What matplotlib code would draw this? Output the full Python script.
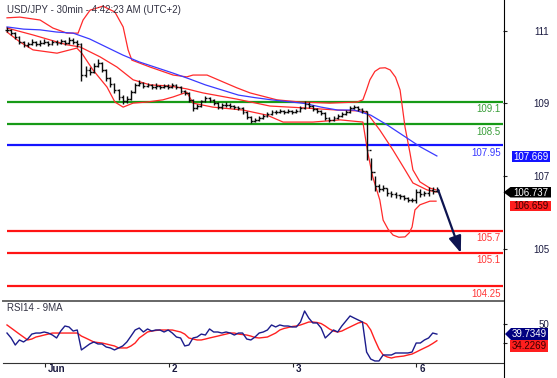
import numpy as np
import matplotlib
matplotlib.use("Agg")
import matplotlib.pyplot as plt
from matplotlib.patches import Polygon
from matplotlib.lines import Line2D

plt.rcParams['font.family'] = ['Liberation Sans', 'DejaVu Sans']

# ---------------- data ----------------
title = "USD/JPY - 30min - 4:42:23 AM (UTC+2)"
rsi_title = "RSI14 - 9MA"

close = [111.02, 110.93, 110.82, 110.69, 110.60, 110.63, 110.69, 110.63, 110.66, 110.69,
         110.63, 110.69, 110.66, 110.71, 110.66, 110.74, 110.69, 110.63, 109.78, 109.92,
         109.86, 110.03, 110.11, 109.92, 109.70, 109.53, 109.37, 109.18, 109.07, 109.12,
         109.32, 109.51, 109.56, 109.48, 109.51, 109.45, 109.48, 109.45, 109.48, 109.45,
         109.51, 109.45, 109.34, 109.29, 109.10, 108.88, 108.93, 109.07, 109.15, 109.10,
         109.01, 108.90, 108.96, 108.96, 108.93, 108.90, 108.88, 108.77, 108.63, 108.52,
         108.55, 108.60, 108.66, 108.71, 108.77, 108.77, 108.79, 108.77, 108.79, 108.77,
         108.79, 108.88, 108.99, 108.93, 108.85, 108.79, 108.74, 108.60, 108.55, 108.60,
         108.66, 108.71, 108.77, 108.88, 108.90, 108.85, 108.79, 107.72, 107.12, 106.74,
         106.65, 106.68, 106.54, 106.52, 106.49, 106.46, 106.41, 106.35, 106.35, 106.57,
         106.52, 106.54, 106.63, 106.60, 106.63]
high = [111.10, 111.03, 110.95, 110.84, 110.72, 110.70, 110.76, 110.72, 110.73, 110.76,
        110.72, 110.74, 110.73, 110.78, 110.75, 110.82, 110.80, 110.73, 110.66, 110.02,
        110.00, 110.10, 110.22, 110.13, 109.94, 109.72, 109.56, 109.40, 109.22, 109.20,
        109.36, 109.56, 109.64, 109.60, 109.57, 109.54, 109.55, 109.52, 109.54, 109.53,
        109.56, 109.54, 109.47, 109.38, 109.31, 109.12, 108.99, 109.10, 109.20, 109.18,
        109.12, 109.04, 109.02, 109.03, 109.00, 108.97, 108.94, 108.90, 108.79, 108.66,
        108.61, 108.66, 108.71, 108.77, 108.82, 108.83, 108.84, 108.83, 108.84, 108.82,
        108.85, 108.92, 109.08, 109.05, 108.96, 108.88, 108.82, 108.76, 108.64, 108.66,
        108.71, 108.76, 108.82, 108.93, 108.97, 108.93, 108.88, 108.80, 107.50, 107.01,
        106.80, 106.76, 106.68, 106.60, 106.56, 106.53, 106.50, 106.44, 106.42, 106.66,
        106.66, 106.60, 106.70, 106.70, 106.70]
low = [110.95, 110.88, 110.77, 110.64, 110.55, 110.55, 110.60, 110.58, 110.58, 110.62,
       110.59, 110.61, 110.60, 110.63, 110.61, 110.64, 110.63, 110.56, 109.62, 109.72,
       109.78, 109.84, 110.00, 109.85, 109.63, 109.46, 109.30, 109.10, 108.98, 109.02,
       109.10, 109.30, 109.47, 109.43, 109.44, 109.40, 109.41, 109.39, 109.42, 109.40,
       109.43, 109.40, 109.29, 109.22, 109.04, 108.80, 108.84, 108.90, 109.04, 109.03,
       108.96, 108.85, 108.86, 108.90, 108.87, 108.84, 108.81, 108.72, 108.57, 108.46,
       108.48, 108.52, 108.58, 108.63, 108.69, 108.71, 108.73, 108.72, 108.73, 108.72,
       108.73, 108.76, 108.86, 108.88, 108.80, 108.74, 108.68, 108.55, 108.49, 108.52,
       108.57, 108.63, 108.69, 108.75, 108.84, 108.80, 108.74, 107.45, 106.90, 106.60,
       106.57, 106.60, 106.47, 106.44, 106.41, 106.39, 106.34, 106.30, 106.29, 106.26,
       106.44, 106.45, 106.45, 106.53, 106.57]

ma_step = 4
ma_blue = [111.10, 111.04, 111.02, 110.96, 110.93, 110.77, 110.55, 110.33, 110.14, 109.99,
           109.84, 109.68, 109.51, 109.37, 109.23, 109.16, 109.10, 109.05, 109.00, 108.90,
           108.82, 108.82, 108.68, 108.41, 108.11, 107.81, 107.56]

bb_up_x = [0, 3.1, 8.0, 11.1, 14.5, 17.2, 18.4, 20.1, 23.2, 26.1, 28.1, 29.3, 30.2, 34.6,
           40.2, 43.5, 45.0, 48.4, 52.3, 55.6, 58.8, 65.3, 70.9, 78.1, 84.7, 86.1, 87.0, 87.8,
           89.0, 90.2, 91.5, 92.7, 94.0, 95.1, 96.3, 97.5, 98.2, 99.9, 102.3, 103.8]
bb_up = [111.35, 111.37, 111.29, 111.07, 110.93, 110.93, 111.29, 111.56, 111.67, 111.51,
         111.10, 110.47, 110.19, 110.00, 109.78, 109.73, 109.78, 109.78, 109.59, 109.43,
         109.29, 109.10, 109.04, 109.01, 109.04, 109.10, 109.38, 109.65, 109.88, 109.97,
         109.98, 109.92, 109.72, 109.37, 108.35, 107.64, 107.18, 106.85, 106.68, 106.63]
bb_mid_x = [0, 6.3, 14.5, 17.7, 22.5, 26.6, 30.5, 34.6, 39.4, 43.5, 47.4, 55.6, 63.6, 71.6,
            79.8, 86.1, 87.1, 90.2, 93.4, 96.3, 98.2, 101.6, 103.8]
bb_mid = [111.07, 110.88, 110.61, 110.55, 110.28, 110.00, 109.65, 109.51, 109.48, 109.40,
          109.29, 109.12, 108.93, 108.88, 108.82, 108.79, 108.74, 108.27, 107.72, 107.18,
          106.82, 106.63, 106.57]
bb_low_x = [0, 3.1, 6.3, 12.1, 16.9, 18.1, 20.8, 24.2, 26.1, 28.1, 30.5, 33.9, 37.7, 40.2,
            43.5, 45.0, 49.8, 57.1, 62.9, 66.8, 74.0, 80.6, 86.1, 87.3, 88.5, 90.2, 91.0,
            92.2, 93.4, 94.8, 96.3, 97.3, 98.0, 98.7, 99.9, 102.3, 103.8]
bb_low = [110.96, 110.69, 110.47, 110.38, 110.52, 110.38, 109.92, 109.45, 109.04, 108.90,
          109.01, 109.04, 109.10, 109.18, 109.31, 109.01, 108.90, 108.82, 108.68, 108.49,
          108.49, 108.55, 108.49, 107.64, 106.98, 106.35, 105.80, 105.55, 105.39, 105.33,
          105.34, 105.45, 105.61, 106.08, 106.22, 106.32, 106.32]

rsi = [40.8, 35.6, 28.2, 33.5, 31.4, 34.5, 39.7, 40.8, 40.8, 41.9, 40.8, 38.7, 35.6, 42.9,
       48.2, 47.2, 42.9, 44.0, 23.0, 26.1, 29.3, 31.4, 29.3, 29.3, 26.1, 25.1, 23.0, 25.1,
       27.2, 31.4, 37.6, 44.0, 46.1, 41.9, 45.1, 42.9, 44.0, 44.0, 41.9, 44.0, 40.8, 36.6,
       35.6, 27.2, 28.2, 35.6, 36.6, 39.7, 38.7, 45.1, 41.9, 41.9, 40.8, 41.9, 40.8, 38.7,
       40.8, 40.8, 34.5, 33.5, 36.6, 40.8, 41.9, 44.0, 49.3, 47.2, 49.3, 48.2, 48.2, 47.2,
       47.2, 52.4, 64.0, 56.6, 51.4, 51.4, 46.1, 35.6, 39.7, 44.0, 41.9, 48.2, 53.5, 58.8,
       56.6, 54.5, 52.4, 20.8, 13.4, 11.4, 11.4, 17.7, 17.7, 17.7, 19.8, 19.8, 19.8, 19.8,
       20.8, 30.3, 30.3, 33.5, 35.6, 40.8, 39.7]
rsi_ma = [49.3, 46.1, 42.9, 39.7, 36.6, 33.5, 34.5, 36.6, 37.6, 38.7, 39.7, 40.8, 40.8, 40.8,
          40.8, 40.8, 40.8, 40.8, 37.6, 35.6, 33.5, 31.4, 30.8, 30.3, 29.3, 28.2, 27.2, 25.1,
          25.1, 25.1, 27.2, 30.3, 35.6, 38.7, 41.9, 42.9, 43.5, 44.0, 44.0, 44.0, 44.0, 42.9,
          41.9, 39.7, 35.6, 34.5, 33.5, 33.5, 34.5, 35.6, 36.6, 37.6, 38.7, 39.7, 40.8, 40.8,
          39.7, 39.2, 38.7, 37.6, 36.1, 35.6, 36.1, 36.6, 38.7, 40.8, 44.0, 45.6, 46.6, 47.7,
          48.2, 49.3, 50.8, 52.4, 52.4, 51.9, 50.8, 48.2, 45.1, 42.9, 41.9, 42.9, 45.1, 47.2,
          49.3, 51.4, 52.4, 50.3, 44.0, 33.5, 24.0, 17.7, 15.6, 14.5, 15.6, 16.1, 16.6, 17.7,
          18.7, 20.8, 23.0, 25.1, 27.2, 29.8, 32.7]

levels = [109.05, 108.43, 107.85, 105.51, 104.90, 103.99]
level_labels = ['109.1', '108.5', '107.95', '105.7', '105.1', '104.25']
level_colors = ['#179a17', '#179a17', '#1414ff', '#ff1414', '#ff1414', '#ff1414']
level_text_colors = ['#3a9e3a', '#3a9e3a', '#3838ff', '#ff3838', '#ff3838', '#ff3838']

price_ticks = [111, 109, 107, 105]
rsi_ticks = [50, 30]
rsi_tick_labels = ['50', '']
day_ticks = [9.2, 39.2, 69.2, 99.0]
day_labels = ['Jun', '2', '3', '6']

ma_last_label = '107.669'
price_last_label = '106.737'
band_last_label = '106.659'
rsi_last_label = '39.7349'
rsi_ma_last_label = '34.2269'

# ---------------- figure ----------------
W, H = 557, 378
fig = plt.figure(figsize=(W / 100, H / 100), dpi=100)
fig.patch.set_facecolor('white')

def fx(px):
    return px / W

def fy(py):
    return 1 - py / H

XL = (-0.968, 120.0)
ax = fig.add_axes([fx(3), fy(301), fx(500), 301 / H])
ax.set_xlim(*XL)
ax.set_ylim(103.581, 111.839)
for s in ax.spines.values():
    s.set_visible(False)
ax.set_xticks([])
ax.yaxis.tick_right()
ax.set_yticks(price_ticks)
ax.set_yticklabels([str(t) for t in price_ticks])
ax.tick_params(axis='y', direction='out', length=3, width=0.8, color='#222222',
               labelsize=7, labelcolor='#1a1a40', pad=30.2)
for lbl in ax.get_yticklabels():
    lbl.set_ha('right')

n = len(close)
x = np.arange(n)
c = np.array(close)
o = np.r_[c[0], c[:-1]]

# horizontal levels
for lv, lab, col, tcol in zip(levels, level_labels, level_colors, level_text_colors):
    ax.hlines(lv, 0, XL[1], color=col, lw=1.6, zorder=1)
    ax.annotate(lab, xy=(1, lv), xycoords=('axes fraction', 'data'),
                xytext=(-1.5, -1.8), textcoords='offset points',
                ha='right', va='top', fontsize=7, color=tcol)

# bands and MA
for bx, by in ((bb_up_x, bb_up), (bb_mid_x, bb_mid), (bb_low_x, bb_low)):
    ax.plot(bx, by, color='#ff2a2a', lw=0.9, zorder=2, solid_joinstyle='round')
ax.plot(np.arange(0, n, ma_step), ma_blue, color='#3a3aff', lw=0.9, zorder=2)

# OHLC bars
bar_col = '#0a0a0a'
ax.vlines(x, low, high, color=bar_col, lw=1.0, zorder=3)
ax.hlines(o, x - 0.45, x, color=bar_col, lw=1.0, zorder=3)
ax.hlines(c, x, x + 0.45, color=bar_col, lw=1.0, zorder=3)

# projection arrow
ax.annotate('', xy=(n - 1 + 5.8, levels[4]), xytext=(n - 1 + 0.3, close[-1]),
            arrowprops=dict(arrowstyle='-|>,head_length=1.0,head_width=0.38',
                            mutation_scale=10, color='#0d1450', lw=1.6,
                            shrinkA=0, shrinkB=0), zorder=5)

# ---------------- RSI panel ----------------
ax2 = fig.add_axes([fx(3), fy(363), fx(500), 62 / H])
ax2.set_xlim(*XL)
ax2.set_ylim(9.26, 74.53)
for s in ax2.spines.values():
    s.set_visible(False)
ax2.spines['top'].set_visible(True)
ax2.spines['top'].set_color('#666666')
ax2.spines['top'].set_linewidth(1.4)
ax2.spines['bottom'].set_visible(True)
ax2.spines['bottom'].set_color('#333333')
ax2.spines['bottom'].set_linewidth(0.8)
ax2.plot(x, rsi, color='#1c1c8c', lw=1.0, zorder=3)
ax2.plot(x, rsi_ma, color='#ff2020', lw=1.0, zorder=2)
ax2.yaxis.tick_right()
ax2.set_yticks(rsi_ticks)
ax2.set_yticklabels(rsi_tick_labels)
ax2.tick_params(axis='y', direction='out', length=3, width=0.8, color='#222222',
                labelsize=7, labelcolor='#1a1a40', pad=30.2)
for lbl in ax2.get_yticklabels():
    lbl.set_ha('right')
ax2.set_xticks(day_ticks)
ax2.set_xticklabels([])
ax2.tick_params(axis='x', direction='out', length=3, width=0.8, color='#222222')
for t, lab in zip(day_ticks, day_labels):
    ax2.annotate(lab, xy=(t, 0), xycoords=('data', 'axes fraction'),
                 xytext=(2.2, -0.8), textcoords='offset points',
                 ha='left', va='top', fontsize=7, fontweight='bold', color='#1a1a40')

# right axis line
fig.add_artist(Line2D([fx(503.5), fx(503.5)], [0, 1], transform=fig.transFigure,
                      color='black', lw=0.8))

# titles
fig.text(fx(7), fy(10), title, ha='left', va='center', fontsize=7, color='#333344')
fig.text(fx(7), fy(308), rsi_title, ha='left', va='center', fontsize=7, color='#333344')

# value boxes
def box(pts, fc, txt, tc, cx, cy):
    fig.add_artist(Polygon([(fx(px), fy(py)) for px, py in pts], closed=True,
                           transform=fig.transFigure, facecolor=fc, edgecolor='none',
                           zorder=5))
    fig.text(fx(cx), fy(cy), txt, ha='center', va='center', fontsize=7, color=tc,
             zorder=6)

box([(512, 151), (550, 151), (550, 162), (512, 162)], '#1414ff', ma_last_label,
    'white', 531, 156.8)
box([(503.5, 192.3), (510.5, 187), (551, 187), (551, 197.5), (510.5, 197.5)], '#000000',
    price_last_label, 'white', 531, 192.5)
box([(510, 200.7), (551, 200.7), (551, 210.7), (510, 210.7)], '#ff1e1e', band_last_label,
    '#3a0000', 530.5, 206)
box([(505, 334), (511, 328), (548, 328), (548, 340), (511, 340)], '#000080',
    rsi_last_label, 'white', 529.5, 334.2)
box([(510, 340), (548, 340), (548, 352), (510, 352)], '#ff1e1e', rsi_ma_last_label,
    '#3a0000', 529, 346.2)

fig.savefig('out.png', dpi=100, facecolor='white')
